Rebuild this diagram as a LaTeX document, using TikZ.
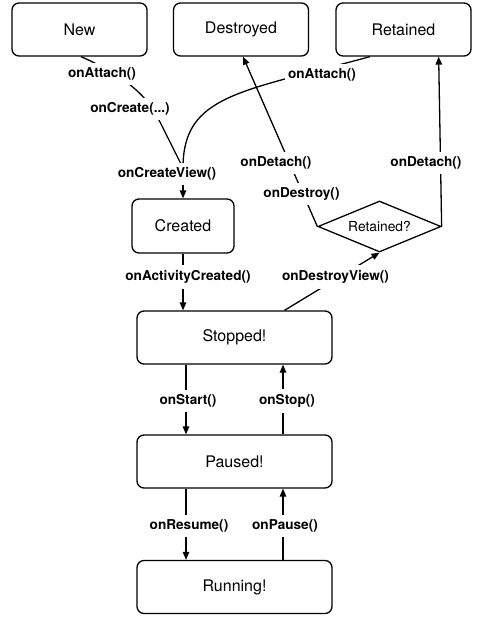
\documentclass[tikz,border=0pt]{standalone}
\usepackage{fontspec}
\setmainfont{TeX Gyre Heros}
\usetikzlibrary{shapes.geometric,arrows.meta,calc}
\begin{document}
\begin{tikzpicture}[x=1pt,y=-1pt,
  state/.style={draw,rounded corners=7pt,line width=1.3pt,inner sep=0pt,
    font=\fontsize{16}{18}\selectfont},
  wide/.style={state,minimum width=195pt,minimum height=53pt},
  top/.style={state,minimum width=135pt,minimum height=53pt},
  lbl/.style={fill=white,inner xsep=3pt,inner ysep=5pt,font=\bfseries\fontsize{13.6}{15}\selectfont},
  conn/.style={line width=1.3pt},
  arr/.style={conn,-{Triangle[length=8pt,width=6.5pt]}}]
\useasboundingbox (0,0) rectangle (482,621);
% states
\node[top] (new) at (79.5,29.5) {New};
\node[top] (destroyed) at (241,29.5) {Destroyed};
\node[top] (retained) at (403.5,29.5) {Retained};
\node[state,minimum width=102pt,minimum height=54pt] (created) at (183,226) {Created};
\node[wide] (stopped) at (234.5,337.5) {Stopped!};
\node[wide] (paused) at (234.5,461.5) {Paused!};
\node[wide] (running) at (234.5,587) {Running!};
\node[draw,diamond,aspect=2.4,minimum width=123pt,minimum height=51pt,inner sep=0pt,
  line width=1.3pt,font=\fontsize{13.8}{15}\selectfont] (retq) at (379.5,226.5) {Retained?};
% connectors
\coordinate (cv) at (183,168);
\draw[conn] ([xshift=1.5pt]new.south) .. controls (130,78) and (150,100) .. (160,122) -- (cv);
\draw[conn] ([xshift=-33.5pt]retained.south) .. controls (240,92) and (183,95) .. (cv);
\draw[arr] (cv) -- (created.north);
\draw[arr] (created.south) -- (created.south |- stopped.north);
\draw[arr] ([xshift=-48.5pt]stopped.south) -- ([xshift=-48.5pt]paused.north);
\draw[arr] ([xshift=48.5pt]paused.north) -- ([xshift=48.5pt]stopped.south);
\draw[arr] ([xshift=-48.5pt]paused.south) -- ([xshift=-48.5pt]running.north);
\draw[arr] ([xshift=48.5pt]running.north) -- ([xshift=48.5pt]paused.south);
\draw[arr] ([xshift=50pt]stopped.north) -- (retq.south);
\draw[arr] (retq.west) -- ([xshift=2pt]destroyed.south);
\draw[arr] (retq.east) -- ([xshift=-33pt]retained.south east);
% labels
\node[lbl] (la1) at (102,74) {onAttach()};
\node[lbl] (lc1) at (130,109) {onCreate(...)};
\node[lbl] (lcv) at (167,174) {onCreateView()};
\node[lbl] (la2) at (322,75) {onAttach()};
\node[lbl] (ld1) at (276,163) {onDetach()};
\node[lbl] (ldy) at (301.5,194) {onDestroy()};
\node[lbl] (ld2) at (426,163) {onDetach()};
\node[lbl] (lac) at (188,277) {onActivityCreated()};
\node[lbl] (ldv) at (335.5,277) {onDestroyView()};
\node[lbl] (lst) at (188,401) {onStart()};
\node[lbl] (lsp) at (287,401) {onStop()};
\node[lbl] (lre) at (189,526) {onResume()};
\node[lbl] (lpa) at (285,526) {onPause()};
\end{tikzpicture}
\end{document}
